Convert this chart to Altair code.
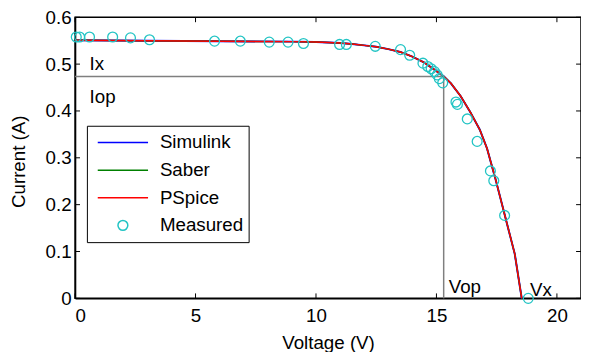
import altair as alt
import pandas as pd

# ---- data ----
series = ["Simulink", "Saber", "PSpice", "Measured"]
colors = ["#0000FF", "#008000", "#FF0000", "#22C4C4"]

curve_v = [0, 3, 6, 9, 10, 11, 11.5, 12, 12.5, 13, 13.5, 14, 14.5, 15, 15.3,
           15.6, 16.0, 16.4, 16.8, 17.1, 17.45, 17.7, 18.0, 18.25, 18.54]
curve_i = [0.551, 0.550, 0.549, 0.548, 0.547, 0.545, 0.543, 0.540, 0.537, 0.532,
           0.526, 0.516, 0.503, 0.485, 0.474, 0.459, 0.432, 0.398, 0.360, 0.320,
           0.255, 0.205, 0.145, 0.095, 0.0]

meas_v = [0.05, 0.19, 0.6, 1.56, 2.3, 3.09, 5.79, 6.86, 8.06, 8.84, 9.48, 10.98,
          11.26, 12.46, 13.51, 13.89, 14.44, 14.64, 14.78, 14.92, 15.03, 15.12,
          15.26, 15.81, 15.87, 16.28, 16.69, 17.24, 17.38, 17.83, 18.81]
meas_i = [0.558, 0.558, 0.558, 0.558, 0.556, 0.552, 0.549, 0.549, 0.547, 0.547,
          0.544, 0.542, 0.542, 0.538, 0.531, 0.519, 0.502, 0.495, 0.490, 0.484,
          0.477, 0.469, 0.460, 0.419, 0.414, 0.383, 0.335, 0.272, 0.251, 0.177, 0.0]

v_op = 15.3
i_op = 0.4737

label_text = ["Ix", "Iop", "Vop", "Vx"]
label_v = [0.6, 0.6, 15.51, 18.88]
label_i = [0.488, 0.4175, 0.0105, 0.004]

x_ticks = [0, 5, 10, 15, 20]
y_ticks = [0, 0.1, 0.2, 0.3, 0.4, 0.5, 0.6]

W, H = 513, 285
FONT = "Liberation Sans"
FS = 19

# ---- tables ----
curves = pd.concat(
    [pd.DataFrame({"V": curve_v, "I": curve_i, "series": s}) for s in series[:3]]
)
meas = pd.DataFrame({"V": meas_v, "I": meas_i, "series": "Measured"})
hline = pd.DataFrame({"V": [0], "V2": [v_op], "I": [i_op]})
vline = pd.DataFrame({"V": [v_op], "I": [0], "I2": [i_op]})
labels = pd.DataFrame({"V": label_v, "I": label_i, "t": label_text})
xt = pd.DataFrame({"V": x_ticks})
yt = pd.DataFrame({"I": y_ticks})

xscale = alt.Scale(domain=[0, 21], nice=False, zero=False)
yscale = alt.Scale(domain=[0, 0.6], nice=False, zero=False)

xaxis = alt.Axis(values=x_ticks, ticks=False, tickSize=0, grid=False,
                 domainColor="black", domainWidth=1.5, labelFont=FONT,
                 labelFontSize=FS, labelColor="black", labelPadding=8,
                 title="Voltage (V)", titleFont=FONT, titleFontSize=FS,
                 titleFontWeight="normal", titleColor="black", titleY=51,
                 titleBaseline="alphabetic")
yaxis = alt.Axis(values=y_ticks, format="~g", ticks=False, tickSize=0, grid=False,
                 domainColor="black", domainWidth=1.5, labelFont=FONT,
                 labelFontSize=FS, labelColor="black", labelPadding=4,
                 title="Current (A)", titleFont=FONT, titleFontSize=FS,
                 titleFontWeight="normal", titleColor="black", titleX=-51,
                 titleY=146, titleAngle=270, titleBaseline="alphabetic")

X = alt.X("V:Q", scale=xscale, axis=xaxis)
Y = alt.Y("I:Q", scale=yscale, axis=yaxis)

legend = alt.Legend(title=None, orient="none", legendX=12, legendY=110,
                    columns=1, clipHeight=24, rowPadding=4, padding=5,
                    symbolOffset=5, labelOffset=11, labelFont=FONT,
                    labelFontSize=FS, labelColor="black",
                    strokeColor="black", fillColor="white",
                    symbolStrokeWidth=1.5)
color = alt.Color("series:N", scale=alt.Scale(domain=series, range=colors),
                  legend=legend)
shape = alt.Shape("series:N",
                  scale=alt.Scale(domain=series,
                                  range=["stroke", "stroke", "stroke", "circle"]),
                  legend=legend)
size = alt.Size("series:N",
                scale=alt.Scale(type="ordinal", domain=series,
                                range=[2601, 2601, 2601, 100]),
                legend=legend)

gray = "#7f7f7f"
h_rule = alt.Chart(hline).mark_rule(color=gray, strokeWidth=1.5).encode(
    x=X, x2="V2:Q", y=Y)
v_rule = alt.Chart(vline).mark_rule(color=gray, strokeWidth=1.5).encode(
    x=X, y=Y, y2="I2:Q")

line_layers = [
    alt.Chart(curves[curves.series == s]).mark_line(
        strokeWidth=2.0 if s == "Simulink" else 1.5).encode(x=X, y=Y, color=color)
    for s in series[:3]
]

pts = alt.Chart(meas).mark_point(filled=False, strokeWidth=1.3, opacity=1).encode(
    x=X, y=Y, color=color, shape=shape, size=size)

txt = alt.Chart(labels).mark_text(align="left", baseline="alphabetic", font=FONT,
                                  fontSize=FS, color="black").encode(
    x=X, y=Y, text="t:N")

tick_len = 5
bt = alt.Chart(xt).mark_rule(color="black", strokeWidth=1).encode(
    x=X, y=alt.value(H), y2=alt.value(H - tick_len))
tt = alt.Chart(xt).mark_rule(color="black", strokeWidth=1).encode(
    x=X, y=alt.value(0), y2=alt.value(tick_len))
lt = alt.Chart(yt).mark_rule(color="black", strokeWidth=1).encode(
    y=Y, x=alt.value(0), x2=alt.value(tick_len))
rt = alt.Chart(yt).mark_rule(color="black", strokeWidth=1).encode(
    y=Y, x=alt.value(W), x2=alt.value(W - tick_len))

chart = alt.layer(
    h_rule, v_rule, *line_layers, pts, txt, bt, tt, lt, rt
).properties(
    width=W, height=H,
    autosize=alt.AutoSizeParams(type="none"),
    padding={"left": 68, "top": 7, "right": 0, "bottom": 52},
    background="white",
).configure_view(stroke="black", strokeWidth=1.5)

chart.save("out.html", embed_options={"renderer": "svg", "actions": False})
